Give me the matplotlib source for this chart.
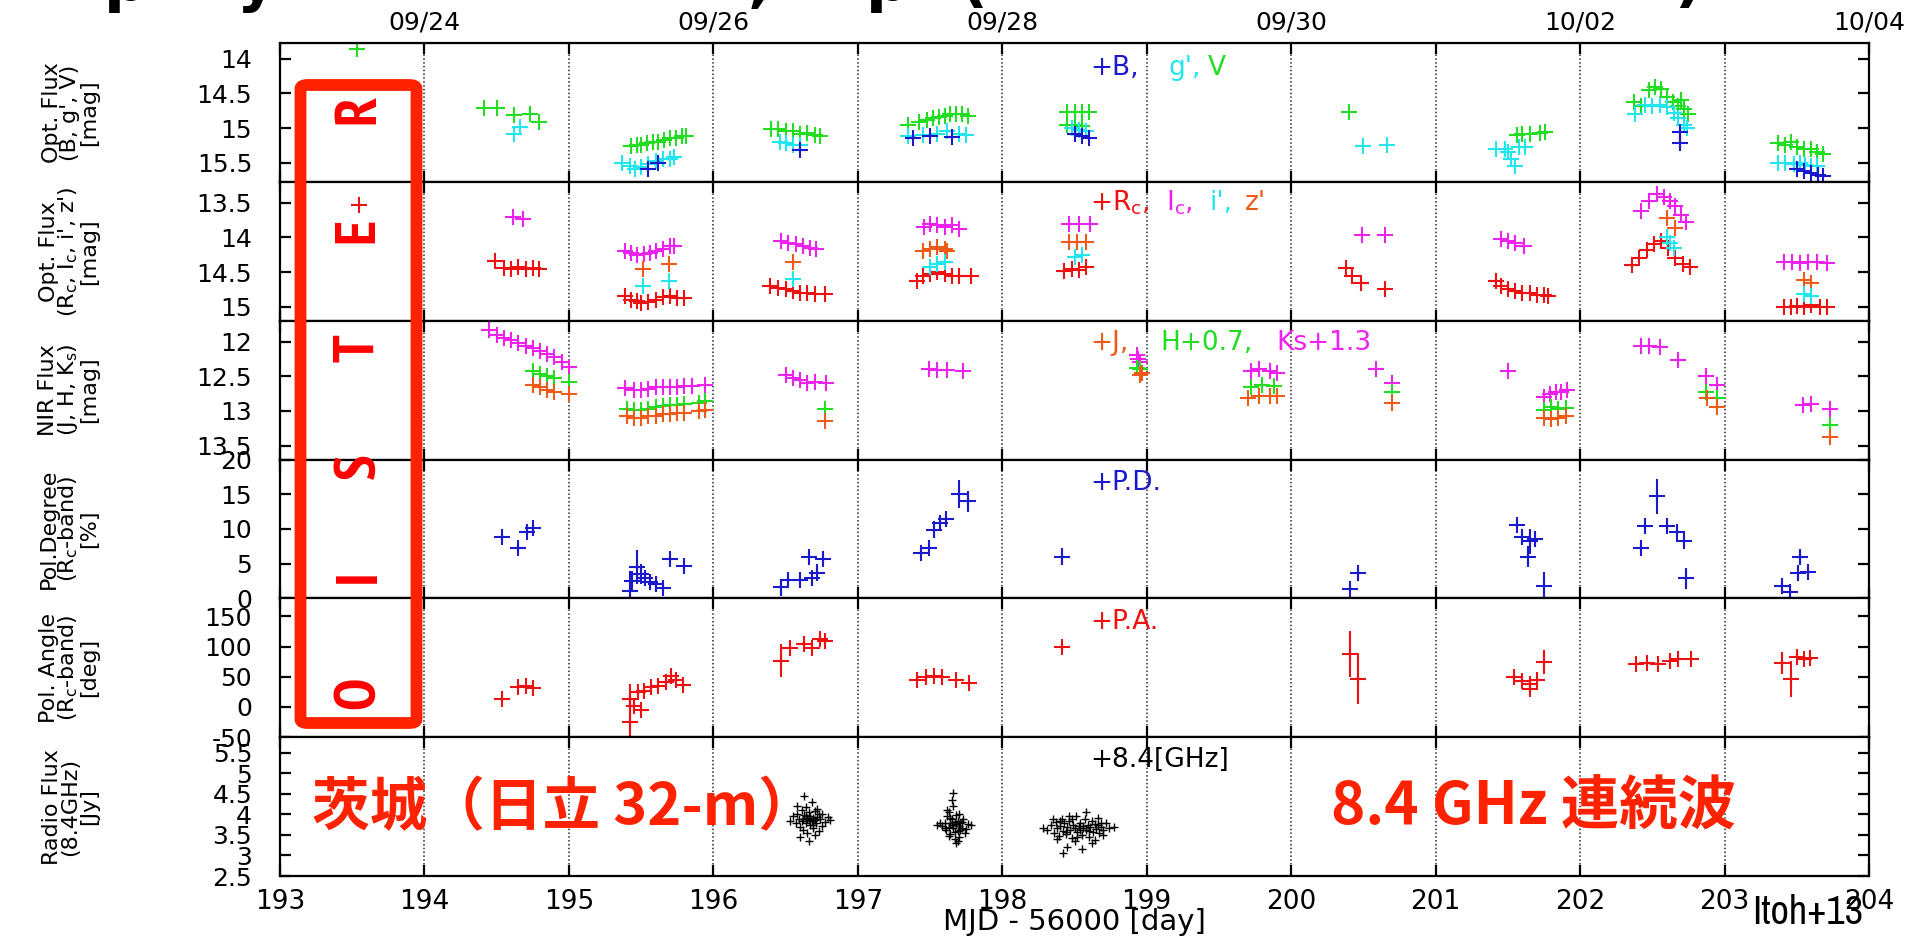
import matplotlib
matplotlib.use('Agg')
import matplotlib.pyplot as plt
from matplotlib import font_manager
from matplotlib.font_manager import FontProperties
from matplotlib.patches import FancyBboxPatch

plt.rcParams['mathtext.default'] = 'regular'


def find_font(bold):
    files = [f.fname for f in font_manager.fontManager.ttflist]
    for word in ('narrow', 'condensed'):
        for fn in files:
            n = fn.lower()
            if word in n and 'italic' not in n and 'oblique' not in n and ('bold' in n) == bold:
                return fn
    return None

narrow_reg = find_font(False)
narrow_bold = find_font(True)


def nfont(size, bold=False):
    fn = narrow_bold if bold else narrow_reg
    if fn:
        return FontProperties(fname=fn, size=size)
    return FontProperties(family='Liberation Sans', size=size * 0.85,
                          weight='bold' if bold else 'normal')

# ---------------- data (MJD - 56000) ----------------
# panel 1 : B, g', V
v_t = [193.53, 194.41, 194.50, 194.62, 194.73, 194.79,
       195.43, 195.47, 195.50, 195.54, 195.58, 195.62, 195.66, 195.70, 195.74, 195.78, 195.81,
       196.40, 196.45, 196.50, 196.55, 196.60, 196.65, 196.70, 196.74,
       197.35, 197.42, 197.48, 197.52, 197.56, 197.60, 197.64, 197.68, 197.72, 197.76,
       198.45, 198.50, 198.55, 198.60, 198.45, 198.50, 198.55,
       200.40, 201.56, 201.60, 201.65, 201.72, 201.76,
       202.37, 202.42, 202.48, 202.52, 202.56, 202.60, 202.64, 202.68, 202.70, 202.72, 202.75,
       203.37, 203.42, 203.46, 203.50, 203.55, 203.60, 203.64, 203.68]
v_mag = [13.86, 14.71, 14.71, 14.81, 14.79, 14.92,
         15.26, 15.24, 15.25, 15.22, 15.20, 15.20, 15.17, 15.15, 15.14, 15.12, 15.11,
         15.01, 15.02, 15.05, 15.04, 15.08, 15.07, 15.10, 15.11,
         14.95, 14.92, 14.88, 14.86, 14.84, 14.82, 14.80, 14.79, 14.80, 14.82,
         14.77, 14.77, 14.77, 14.77, 14.96, 14.95, 14.97,
         14.77, 15.10, 15.08, 15.09, 15.07, 15.06,
         14.62, 14.68, 14.45, 14.41, 14.43, 14.55, 14.62, 14.68, 14.60, 14.72, 14.80,
         15.22, 15.25, 15.20, 15.27, 15.30, 15.30, 15.35, 15.38]
g_t = [194.66, 194.62,
       195.37, 195.42, 195.46, 195.50, 195.55, 195.60, 195.65, 195.70, 195.73,
       196.46, 196.50, 196.55, 196.60,
       197.35, 197.45, 197.55, 197.62, 197.70, 197.75,
       198.48, 198.53, 198.58,
       200.50, 200.66,
       201.42, 201.48, 201.50, 201.52, 201.55, 201.58, 201.62,
       202.38, 202.45, 202.50, 202.55, 202.60, 202.65, 202.68, 202.72, 202.74,
       203.37, 203.42, 203.48, 203.52, 203.56, 203.60, 203.64]
g_mag = [14.98, 15.09,
         15.50, 15.55, 15.60, 15.57, 15.52, 15.48, 15.45, 15.45, 15.42,
         15.20, 15.22, 15.25, 15.24,
         15.12, 15.10, 15.08, 15.05, 15.08, 15.10,
         15.00, 15.03, 15.05,
         15.26, 15.25,
         15.30, 15.30, 15.35, 15.45, 15.55, 15.28, 15.27,
         14.80, 14.67, 14.68, 14.67, 14.70, 14.78, 14.85, 14.95, 15.00,
         15.50, 15.50, 15.52, 15.50, 15.53, 15.55, 15.55]
b_t = [195.55, 195.62, 196.60, 197.38, 197.50, 197.65, 198.50, 198.55, 198.60,
       202.69, 202.69, 203.50, 203.55, 203.60, 203.65, 203.68]
b_mag = [15.60, 15.50, 15.32, 15.15, 15.12, 15.13, 15.08, 15.12, 15.15,
         15.06, 15.21, 15.60, 15.62, 15.65, 15.68, 15.70]
b_err = [0.03, 0.03, 0.03, 0.03, 0.03, 0.03, 0.03, 0.03, 0.03,
         0.08, 0.10, 0.03, 0.03, 0.03, 0.03, 0.03]

# panel 2 : Rc, Ic, i', z'
rc_t = [193.55, 194.49, 194.55, 194.60, 194.65, 194.70, 194.75, 194.79,
        195.39, 195.43, 195.47, 195.50, 195.55, 195.60, 195.65, 195.70, 195.75, 195.80,
        196.39, 196.45, 196.50, 196.55, 196.60, 196.65, 196.70, 196.77,
        197.41, 197.45, 197.50, 197.55, 197.60, 197.65, 197.70, 197.78,
        198.43, 198.48, 198.53, 198.58,
        200.38, 200.42, 200.48, 200.65,
        201.42, 201.45, 201.50, 201.55, 201.60, 201.65, 201.70, 201.75, 201.78,
        202.36, 202.41, 202.46, 202.51, 202.56, 202.61, 202.66, 202.71, 202.76,
        203.41, 203.46, 203.50, 203.55, 203.60, 203.66, 203.71]
rc_mag = [13.54, 14.34, 14.44, 14.45, 14.43, 14.45, 14.44, 14.45,
          14.85, 14.90, 14.92, 14.95, 14.93, 14.90, 14.86, 14.85, 14.88, 14.87,
          14.70, 14.73, 14.75, 14.77, 14.80, 14.80, 14.82, 14.82,
          14.63, 14.55, 14.52, 14.50, 14.53, 14.55, 14.55, 14.56,
          14.49, 14.45, 14.47, 14.43,
          14.44, 14.55, 14.65, 14.75,
          14.63, 14.70, 14.75, 14.77, 14.80, 14.80, 14.83, 14.83, 14.85,
          14.40, 14.30, 14.18, 14.10, 14.05, 14.15, 14.30, 14.38, 14.43,
          15.00, 15.00, 14.99, 15.00, 14.98, 15.00, 15.00]
ic_t = [194.61, 194.68,
        195.39, 195.43, 195.47, 195.52, 195.56, 195.60, 195.65, 195.70, 195.73,
        196.47, 196.52, 196.57, 196.62, 196.67, 196.71,
        197.46, 197.50, 197.55, 197.60, 197.65, 197.70,
        198.46, 198.53, 198.61,
        200.49, 200.65,
        201.45, 201.50, 201.55, 201.61,
        202.42, 202.48, 202.53, 202.58, 202.62, 202.66, 202.70, 202.73,
        203.41, 203.47, 203.52, 203.58, 203.64, 203.71]
ic_mag = [13.70, 13.74,
          14.20, 14.22, 14.25, 14.24, 14.22, 14.20, 14.16, 14.13, 14.12,
          14.05, 14.08, 14.10, 14.13, 14.15, 14.16,
          13.85, 13.80, 13.82, 13.85, 13.82, 13.88,
          13.80, 13.80, 13.80,
          13.97, 13.97,
          14.02, 14.05, 14.08, 14.12,
          13.62, 13.47, 13.37, 13.42, 13.47, 13.55, 13.68, 13.78,
          14.36, 14.35, 14.37, 14.36, 14.36, 14.37]
ip_t = [195.51, 195.69, 196.55, 197.50, 197.55, 197.60, 198.50, 198.55,
        202.60, 202.62, 202.65, 203.55, 203.60]
ip_mag = [14.70, 14.63, 14.60, 14.42, 14.38, 14.36, 14.28, 14.25,
          14.00, 14.08, 14.15, 14.82, 14.85]
zp_t = [195.51, 195.69, 196.55, 197.45, 197.50, 197.55, 197.60, 197.62,
        198.46, 198.52, 198.58, 202.60, 202.66, 203.55, 203.60]
zp_mag = [14.46, 14.38, 14.36, 14.20, 14.17, 14.14, 14.16, 14.19,
          14.07, 14.07, 14.07, 13.72, 13.86, 14.62, 14.65]

# panel 3 : J, H+0.7, Ks+1.3
ks_t = [194.45, 194.50, 194.55, 194.60, 194.65, 194.70, 194.75, 194.80, 194.85, 194.90, 194.95, 195.00,
        195.39, 195.45, 195.50, 195.55, 195.60, 195.65, 195.70, 195.75, 195.80, 195.85, 195.94,
        196.50, 196.55, 196.60, 196.65, 196.70, 196.78,
        197.49, 197.55, 197.62, 197.73,
        198.93, 198.94, 198.95,
        199.72, 199.78, 199.85, 199.90,
        200.59, 200.70,
        201.50, 201.75, 201.79, 201.83, 201.87, 201.91,
        202.42, 202.48, 202.55, 202.68, 202.87, 202.95,
        203.54, 203.60, 203.73]
ks_mag = [11.84, 11.90, 11.95, 11.98, 12.02, 12.06, 12.10, 12.14, 12.18, 12.22, 12.30, 12.36,
          12.67, 12.70, 12.70, 12.68, 12.66, 12.65, 12.65, 12.66, 12.64, 12.64, 12.63,
          12.48, 12.52, 12.56, 12.60, 12.58, 12.60,
          12.39, 12.41, 12.41, 12.43,
          12.20, 12.25, 12.30,
          12.43, 12.40, 12.43, 12.45,
          12.39, 12.60,
          12.43, 12.80, 12.76, 12.72, 12.72, 12.70,
          12.07, 12.06, 12.08, 12.26, 12.50, 12.63,
          12.92, 12.90, 12.97]
h_t = [194.75, 194.80, 194.85, 194.90, 195.00,
       195.40, 195.45, 195.50, 195.55, 195.60, 195.65, 195.70, 195.75, 195.80, 195.90, 195.94,
       196.77, 198.93, 198.95, 199.72, 199.80, 199.88, 200.70,
       201.75, 201.80, 201.85, 201.90, 202.87, 202.95, 203.73]
h_mag = [12.43, 12.47, 12.50, 12.52, 12.58,
         12.97, 12.98, 12.99, 12.97, 12.95, 12.93, 12.92, 12.92, 12.90, 12.88, 12.85,
         12.97, 12.38, 12.40, 12.65, 12.62, 12.64, 12.72,
         12.98, 12.95, 12.97, 12.96, 12.72, 12.82, 13.20]
j_t = [194.75, 194.80, 194.85, 194.90, 195.00,
       195.40, 195.45, 195.50, 195.55, 195.60, 195.65, 195.70, 195.75, 195.80, 195.90, 195.94,
       196.77, 198.95, 198.97, 199.70, 199.78, 199.85, 199.90, 200.70,
       201.75, 201.80, 201.85, 201.90, 202.88, 202.95, 203.73]
j_mag = [12.63, 12.66, 12.70, 12.72, 12.75,
         13.08, 13.10, 13.10, 13.07, 13.07, 13.05, 13.04, 13.03, 13.03, 13.00, 12.98,
         13.15, 12.48, 12.46, 12.82, 12.79, 12.78, 12.78, 12.88,
         13.10, 13.12, 13.10, 13.08, 12.82, 12.94, 13.37]

# panel 4 : polarization degree
pd_t = [194.54, 194.65, 194.71, 194.75,
        195.42, 195.44, 195.47, 195.50, 195.53, 195.56, 195.60, 195.65, 195.70, 195.80,
        196.47, 196.52, 196.60, 196.68, 196.72, 196.66, 196.76,
        197.44, 197.49, 197.53, 197.57, 197.61, 197.70, 197.76,
        198.41, 200.41, 200.46,
        201.56, 201.60, 201.65, 201.69, 201.64, 201.75,
        202.42, 202.45, 202.53, 202.60, 202.67, 202.72, 202.73,
        203.40, 203.45, 203.51, 203.52, 203.58]
pd_val = [8.8, 7.3, 9.6, 10.1,
          1.0, 2.5, 4.5, 3.5, 3.0, 2.4, 2.0, 1.5, 5.6, 4.6,
          1.6, 2.7, 2.7, 2.9, 3.7, 5.9, 5.6,
          6.6, 7.3, 9.9, 10.9, 11.4, 15.0, 14.0,
          6.0, 1.4, 3.6,
          10.6, 8.8, 8.2, 8.6, 6.0, 1.8,
          7.3, 10.4, 14.7, 10.4, 9.6, 8.2, 2.9,
          1.8, 0.9, 3.7, 6.0, 3.8]
pd_err = [0.5, 0.5, 0.5, 0.5,
          3.0, 1.5, 2.5, 1.5, 1.0, 1.0, 1.0, 1.0, 0.8, 0.8,
          1.2, 1.0, 1.0, 1.0, 1.2, 0.8, 0.8,
          0.8, 0.8, 1.2, 1.0, 0.8, 2.0, 1.5,
          1.2, 0.6, 0.8,
          0.5, 1.0, 1.8, 1.0, 1.5, 2.0,
          1.0, 0.8, 2.5, 0.8, 0.8, 0.8, 1.5,
          0.8, 1.0, 0.8, 0.8, 0.8]

# panel 5 : polarization angle
pa_t = [194.54, 194.65, 194.70, 194.75,
        195.42, 195.42, 195.45, 195.50, 195.48, 195.52, 195.57, 195.62, 195.67, 195.71, 195.74, 195.79,
        196.47, 196.53, 196.63, 196.68, 196.74, 196.77,
        197.41, 197.47, 197.53, 197.58, 197.68, 197.77,
        198.41, 200.41, 200.46,
        201.54, 201.60, 201.65, 201.70, 201.65, 201.75,
        202.39, 202.46, 202.54, 202.62, 202.68, 202.77,
        203.40, 203.46, 203.50, 203.55, 203.59]
pa_val = [13, 33, 34, 31,
          -25, 13, 2, -5, 25, 27, 33, 35, 41, 52, 44, 36,
          77, 97, 105, 97, 113, 110,
          45, 49, 51, 49, 44, 40,
          100, 88, 47,
          50, 43, 38, 45, 30, 75,
          72, 73, 72, 77, 80, 79,
          73, 47, 83, 80, 81]
pa_err = [3, 3, 3, 3,
          45, 25, 8, 6, 6, 5, 5, 5, 5, 10, 5, 5,
          27, 12, 5, 6, 5, 4,
          3, 3, 3, 3, 3, 3,
          5, 38, 42,
          5, 5, 5, 5, 8, 20,
          3, 3, 3, 4, 3, 3,
          18, 30, 7, 5, 4]

# panel 6 : 8.4 GHz radio flux
ra_t = [196.53, 196.55, 196.57, 196.58, 196.59, 196.60, 196.61, 196.62, 196.62, 196.63, 196.64, 196.64,
        196.65, 196.65, 196.66, 196.66, 196.67, 196.67, 196.68, 196.68, 196.69, 196.69, 196.70, 196.70,
        196.71, 196.72, 196.73, 196.74, 196.75, 196.77, 196.79, 196.81, 196.60, 196.63, 196.66, 196.69,
        196.72, 196.58, 196.64, 196.70, 196.75, 196.61, 196.67, 196.73, 196.65]
ra_val = [3.85, 3.95, 3.78, 4.02, 3.90, 3.70, 4.10, 3.88, 3.62, 3.98, 3.80, 4.18,
          3.92, 3.55, 3.86, 4.05, 3.74, 3.96, 3.84, 4.30, 3.68, 3.91, 3.87, 4.08,
          3.79, 3.93, 3.60, 3.89, 4.00, 3.82, 3.94, 3.86, 3.45, 4.45, 3.35, 3.75,
          4.12, 4.20, 3.97, 3.50, 3.72, 3.83, 3.90, 4.02, 3.88]
rb_t = [197.55, 197.58, 197.60, 197.61, 197.62, 197.63, 197.63, 197.64, 197.64, 197.65, 197.65, 197.66,
        197.66, 197.67, 197.67, 197.68, 197.68, 197.69, 197.69, 197.70, 197.70, 197.71, 197.72, 197.73,
        197.74, 197.76, 197.78, 197.62, 197.65, 197.68, 197.71, 197.64, 197.67, 197.70, 197.60, 197.66,
        197.72, 197.63, 197.69, 197.66, 197.75, 197.57]
rb_val = [3.75, 3.72, 3.80, 3.62, 3.95, 3.70, 4.05, 3.78, 3.52, 3.88, 3.74, 4.20,
          3.66, 3.82, 3.40, 3.77, 3.98, 3.60, 3.85, 3.71, 3.45, 3.80, 3.68, 3.90,
          3.55, 3.76, 3.73, 4.10, 4.35, 3.30, 3.62, 3.92, 3.58, 4.00, 3.68, 4.52,
          3.82, 3.48, 3.35, 3.75, 3.65, 3.78]
rc2_t = [198.28, 198.31, 198.34, 198.36, 198.37, 198.38, 198.39, 198.40, 198.41, 198.42, 198.43, 198.44,
         198.45, 198.46, 198.47, 198.48, 198.49, 198.50, 198.51, 198.52, 198.53, 198.54, 198.55, 198.56,
         198.57, 198.58, 198.59, 198.60, 198.61, 198.62, 198.63, 198.64, 198.65, 198.66, 198.67, 198.68,
         198.70, 198.72, 198.74, 198.77, 198.38, 198.42, 198.46, 198.50, 198.54, 198.58, 198.62, 198.66,
         198.70, 198.40, 198.44, 198.48, 198.52, 198.56, 198.60, 198.64, 198.68, 198.45, 198.55, 198.35]
rc2_val = [3.68, 3.62, 3.75, 3.55, 3.82, 3.66, 3.48, 3.72, 3.90, 3.60, 3.78, 3.52,
           3.70, 3.85, 3.63, 3.42, 3.74, 3.67, 3.95, 3.58, 3.71, 3.80, 3.50, 3.66,
           3.88, 3.62, 3.73, 3.45, 3.69, 3.83, 3.57, 3.76, 3.64, 3.92, 3.54, 3.70,
           3.61, 3.78, 3.66, 3.69, 3.40, 3.05, 3.95, 3.35, 3.62, 4.05, 3.30, 3.75,
           3.50, 3.85, 3.58, 3.88, 3.45, 3.72, 3.60, 3.38, 3.80, 3.20, 3.15, 3.90]

date_ticks = [194, 196, 198, 200, 202, 204]
date_labels = ['09/24', '09/26', '09/28', '09/30', '10/02', '10/04']

ylabels = ['Opt. Flux\n(B, g\', V)\n[mag]',
           'Opt. Flux\n(R$_c$, I$_c$, i\', z\')\n[mag]',
           'NIR Flux\n(J, H, K$_s$)\n[mag]',
           'Pol.Degree\n(R$_c$-band)\n[%]',
           'Pol. Angle\n(R$_c$-band)\n[deg]',
           'Radio Flux\n(8.4GHz)\n[Jy]']
ylims = [(15.78, 13.77), (15.2, 13.2), (13.7, 11.7), (0, 20), (-50, 180), (2.5, 5.88)]
yticks = [[14, 14.5, 15, 15.5], [13.5, 14, 14.5, 15], [12, 12.5, 13, 13.5],
          [0, 5, 10, 15, 20], [-50, 0, 50, 100, 150], [2.5, 3, 3.5, 4, 4.5, 5, 5.5]]

c_blue, c_cyan, c_green = '#1a1acc', '#22e6ee', '#22dd22'
c_red, c_mag, c_orange = '#ee1111', '#ee22ee', '#ee5a18'

fig = plt.figure(figsize=(19.14, 9.36), dpi=100)
axes = fig.subplots(6, 1, sharex=True, gridspec_kw=dict(hspace=0))
fig.subplots_adjust(left=0.1463, right=0.9765, top=0.954, bottom=0.0641)

mk = dict(marker='+', ls='none', ms=12, mew=1.5)
eb = dict(fmt='+', ms=12, mew=1.5, elinewidth=1.5, capsize=0)
ax = axes[0]
ax.plot(v_t, v_mag, color=c_green, **mk)
ax.plot(g_t, g_mag, color=c_cyan, **mk)
ax.errorbar(b_t, b_mag, yerr=b_err, color=c_blue, **eb)

ax = axes[1]
ax.plot(rc_t, rc_mag, color=c_red, **mk)
ax.plot(ic_t, ic_mag, color=c_mag, **mk)
ax.plot(zp_t, zp_mag, color=c_orange, **mk)
ax.plot(ip_t, ip_mag, color=c_cyan, **mk)

ax = axes[2]
ax.plot(ks_t, ks_mag, color=c_mag, **mk)
ax.plot(h_t, h_mag, color=c_green, **mk)
ax.plot(j_t, j_mag, color=c_orange, **mk)

axes[3].errorbar(pd_t, pd_val, yerr=pd_err, color=c_blue, **eb)
axes[4].errorbar(pa_t, pa_val, yerr=pa_err, color=c_red, **eb)

ax = axes[5]
for tt, vv in [(ra_t, ra_val), (rb_t, rb_val), (rc2_t, rc2_val)]:
    ax.plot(tt, vv, marker='+', ls='none', ms=6, mew=1.0, color='black')

for i, ax in enumerate(axes):
    ax.set_xlim(193, 204)
    ax.set_ylim(*ylims[i])
    ax.set_yticks(yticks[i])
    ax.set_yticklabels([('%g' % v) for v in yticks[i]])
    ax.set_xticks(range(193, 205))
    ax.grid(axis='x', color='0.15', ls=(0, (1, 1.5)), lw=1.1)
    ax.tick_params(direction='in', top=True, right=True, length=8, width=1.6,
                   labelsize=18, pad=20)
    ax.tick_params(axis='x', pad=9)
    for s in ax.spines.values():
        s.set_linewidth(1.6)
    ax.set_ylabel(ylabels[i], fontsize=16, linespacing=0.9)
    ax.yaxis.set_label_coords(-0.114, 0.5)

axes[5].set_xticklabels([str(d) for d in range(193, 205)])
axes[5].tick_params(axis='x', labelsize=19)
axes[5].set_xlabel('MJD - 56000 [day]', fontsize=21, labelpad=-5)

top = axes[0].secondary_xaxis('top')
top.set_xticks(date_ticks)
top.set_xticklabels(date_labels)
top.tick_params(length=0, labelsize=18, pad=6)

# in-panel keys
W, H = 1914.0, 936.0


def key(x, y, s, c, size=19):
    fig.text(x / W, 1 - y / H, s, color=c, fontsize=size, va='center', ha='left')

key(1090, 68, '+B,', c_blue); key(1168, 68, "g',", c_cyan); key(1208, 68, 'V', c_green)
key(1090, 203, '+R$_c$,', c_red); key(1166, 203, 'I$_c$,', c_mag)
key(1210, 203, "i',", c_cyan); key(1245, 203, "z'", c_orange)
key(1090, 343, '+J,', c_orange); key(1160, 343, 'H+0.7,', c_green); key(1276, 343, 'Ks+1.3', c_mag)
key(1090, 483, '+P.D.', c_blue)
key(1090, 622, '+P.A.', c_red)
key(1090, 760, '+8.4[GHz]', 'black')

# slide overlays
red = '#ff2200'
box = FancyBboxPatch((300.5 / W, 1 - 723 / H), (416.5 - 300.5) / W, (723 - 85) / H,
                     boxstyle='round,pad=0,rounding_size=0.004', transform=fig.transFigure,
                     fill=False, ec=red, lw=8.5, zorder=10)
fig.add_artist(box)
for ch, yy in zip('RETSIO', [109, 230, 348, 466, 576, 693]):
    fig.text(360 / W, 1 - yy / H, ch, rotation=90, color='#ff0000',
             fontproperties=nfont(42, bold=True), ha='center', va='center', zorder=11)

cjk = ['Noto Sans CJK JP', 'DejaVu Sans']
fig.text(312 / W, 1 - 808 / H, '茨城（日立 32-m）', color=red, fontsize=41.5, family=cjk,
         weight='bold', ha='left', va='center', zorder=11)
fig.text(1331 / W, 1 - 808 / H, '8.4 GHz 連続波', color=red, fontsize=42, family=cjk,
         weight='bold', ha='left', va='center', zorder=11)
fig.text(1752 / W, 1 - 912 / H, 'Itoh+13', color='black', fontproperties=nfont(29),
         ha='left', va='center', zorder=11)

# cut-off slide title above the figure: only the descenders show, clipped to a thin strip
strip = fig.add_axes([0, 1 - 16 / H, 1, 16 / H])
strip.axis('off')
for ch, xx in zip(['p', 'y', ',', 'p', '(', ')'], [104, 236, 748, 866, 960, 1674]):
    strip.text(xx / W, 0.999, ch, fontsize=44, weight='bold', va='baseline', ha='left',
               transform=strip.transAxes, clip_on=True)

fig.savefig('out.png', dpi=100)
